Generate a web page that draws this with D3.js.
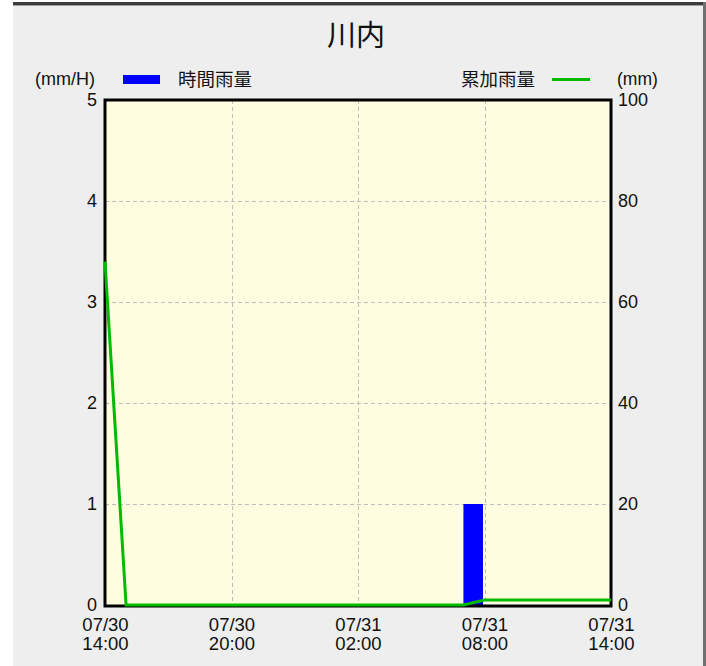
<!DOCTYPE html>
<html><head><meta charset="utf-8">
<script src="https://cdn.jsdelivr.net/npm/d3@7"></script>
<style>
body{margin:0;background:#fff;}
svg{display:block;}
text{font-family:"Liberation Sans",Arial,"Noto Sans CJK JP",sans-serif;fill:#111;}
.jp{font-family:"Noto Sans CJK JP",sans-serif;}
</style></head><body>
<script>
// ---- data ----
const title = "川内";
const times = ["07/30 14:00","07/30 15:00","07/30 16:00","07/30 17:00","07/30 18:00","07/30 19:00","07/30 20:00","07/30 21:00","07/30 22:00","07/30 23:00","07/31 00:00","07/31 01:00","07/31 02:00","07/31 03:00","07/31 04:00","07/31 05:00","07/31 06:00","07/31 07:00","07/31 08:00","07/31 09:00","07/31 10:00","07/31 11:00","07/31 12:00","07/31 13:00","07/31 14:00"];
const hourlyRain = [0,0,0,0,0,0,0,0,0,0,0,0,0,0,0,0,0,0,1,0,0,0,0,0,0];
const cumulativeRain = [68,0,0,0,0,0,0,0,0,0,0,0,0,0,0,0,0,0,1,1,1,1,1,1,1];
const xTickLabels = ["07/30 14:00","07/30 20:00","07/31 02:00","07/31 08:00","07/31 14:00"];
const leftTicks = [0,1,2,3,4,5];
const rightTicks = [0,20,40,60,80,100];
const legendHourly = "時間雨量";
const legendCumulative = "累加雨量";
const leftUnit = "(mm/H)";
const rightUnit = "(mm)";

const parse = d3.timeParse("%Y/%m/%d %H:%M");
const toDate = s => parse("2024/" + s);

const W = 706, H = 666;
const svg = d3.select("body").append("svg").attr("width", W).attr("height", H);

// panel
svg.append("rect").attr("x",13).attr("y",2).attr("width",W-13).attr("height",H-2).attr("fill","#eeeeee");
svg.append("rect").attr("x",13).attr("y",2).attr("width",W-13).attr("height",3).attr("fill","#3c3c3c");
svg.append("rect").attr("x",13).attr("y",5).attr("width",W-13).attr("height",1).attr("fill","#a0a0a0");
svg.append("rect").attr("x",703).attr("y",2).attr("width",3).attr("height",H-2).attr("fill","#707070");

const L = 105, R = 611, T = 100, B = 605;
const x = d3.scaleTime().domain([toDate(times[0]), toDate(times[times.length-1])]).range([L, R]);
const yL = d3.scaleLinear().domain([0,5]).range([B, T]);
const yR = d3.scaleLinear().domain([0,100]).range([B, T]);

// plot bg
svg.append("rect").attr("x",L).attr("y",T).attr("width",R-L).attr("height",B-T).attr("fill","#fffde0");

// grid
const g = svg.append("g");
g.selectAll("line.h").data(leftTicks.filter(v => v>0 && v<5)).join("line")
  .attr("x1",L).attr("x2",R).attr("y1",d=>Math.round(yL(d))+0.5).attr("y2",d=>Math.round(yL(d))+0.5)
  .attr("stroke","#bdbdbd").attr("stroke-dasharray","4,3");
g.selectAll("line.v").data(xTickLabels.slice(1,-1)).join("line")
  .attr("y1",T).attr("y2",B).attr("x1",d=>Math.round(x(toDate(d)))+0.5).attr("x2",d=>Math.round(x(toDate(d)))+0.5)
  .attr("stroke","#bdbdbd").attr("stroke-dasharray","4,3");

// bars (each hourly value covers the preceding hour)
const slot = x(toDate(times[1])) - x(toDate(times[0]));
svg.append("g").selectAll("rect").data(times.map((t,i)=>({t:toDate(t), v:hourlyRain[i]})).filter(d=>d.v>0)).join("rect")
  .attr("x", d => x(d.t) - slot).attr("width", slot - 1.5)
  .attr("y", d => yL(d.v)).attr("height", d => yL(0) - yL(d.v))
  .attr("fill", "#0000ff");

// border
svg.append("rect").attr("x",L).attr("y",T).attr("width",R-L).attr("height",B-T+1)
  .attr("fill","none").attr("stroke","#000").attr("stroke-width",3);

// cumulative line
const line = d3.line().x(d=>x(d.t)).y(d=>yR(d.v));
svg.append("path").datum(times.map((t,i)=>({t:toDate(t), v:cumulativeRain[i]})))
  .attr("d", line).attr("fill","none").attr("stroke","#00bb00").attr("stroke-width",3);

// axes
const axL = d3.axisLeft(yL).tickValues(leftTicks).tickSize(0).tickPadding(8).tickFormat(d3.format("d"));
const gL = svg.append("g").attr("transform",`translate(${L},0)`).call(axL);
const axR = d3.axisRight(yR).tickValues(rightTicks).tickSize(0).tickPadding(7).tickFormat(d3.format("d"));
const gR = svg.append("g").attr("transform",`translate(${R},0)`).call(axR);
[gL,gR].forEach(a => { a.select(".domain").remove(); a.selectAll("text").attr("font-size",18).attr("font-family","Liberation Sans, Arial").attr("fill","#111"); });

const axB = d3.axisBottom(x).tickValues(xTickLabels.map(toDate)).tickSize(0).tickFormat("");
const gB = svg.append("g").attr("transform",`translate(0,${B})`).call(axB);
gB.select(".domain").remove();
gB.selectAll(".tick").each(function(d,i){
  const parts = xTickLabels[i].split(" ");
  const t = d3.select(this).append("text").attr("text-anchor","middle").attr("font-size",18.5).attr("fill","#111");
  t.append("tspan").attr("x",0).attr("y",26).text(parts[0]);
  t.append("tspan").attr("x",0).attr("y",45).text(parts[1]);
});

// title
svg.append("text").attr("class","jp").attr("x",356).attr("y",46).attr("text-anchor","middle")
  .attr("font-size",29).text(title);

// legend
svg.append("text").attr("x",35).attr("y",85).attr("font-size",18).text(leftUnit);
svg.append("rect").attr("x",123).attr("y",75).attr("width",37).attr("height",9).attr("fill","#0000ff");
svg.append("text").attr("class","jp").attr("x",178).attr("y",86).attr("font-size",18.5).text(legendHourly);
svg.append("text").attr("class","jp").attr("x",535).attr("y",86).attr("text-anchor","end").attr("font-size",18.5).text(legendCumulative);
svg.append("line").attr("x1",552).attr("x2",590).attr("y1",79.5).attr("y2",79.5).attr("stroke","#00bb00").attr("stroke-width",3);
svg.append("text").attr("x",617).attr("y",85).attr("font-size",17.5).text(rightUnit);
</script>
</body></html>
